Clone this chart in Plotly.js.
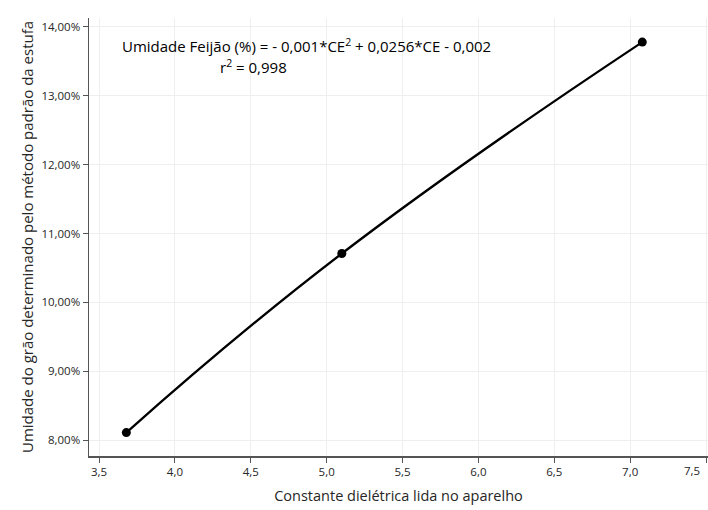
<!DOCTYPE html>
<html>
<head>
<meta charset="utf-8">
<script src="https://cdn.plot.ly/plotly-3.0.1.min.js"></script>
<style>html,body{margin:0;padding:0;background:#fff;}#chart{width:708px;height:510px;}</style>
</head>
<body>
<div id="chart"></div>
<script>
// Data
const constanteDieletrica = [3.68, 5.10, 7.08];
const umidadeGrao = [0.0811, 0.1071, 0.1378];
const xTickVals = [3.5, 4.0, 4.5, 5.0, 5.5, 6.0, 6.5, 7.0, 7.5];
const xTickText = ['3,5', '4,0', '4,5', '5,0', '5,5', '6,0', '6,5', '7,0', ' '];
const yTickVals = [0.08, 0.09, 0.10, 0.11, 0.12, 0.13, 0.14];
const equationText = 'Umidade Feijão (%) = - 0,001*CE<sup>2</sup> + 0,0256*CE - 0,002';
const r2Text = 'r<sup>2</sup> = 0,998';

const FONT = 'Open Sans, Noto Sans, sans-serif';

const trace = {
  x: constanteDieletrica,
  y: umidadeGrao,
  mode: 'lines+markers',
  type: 'scatter',
  line: {shape: 'spline', smoothing: 1.3, color: '#000', width: 2.3},
  marker: {color: '#000', size: 9},
  hoverinfo: 'none'
};

const layout = {
  width: 708, height: 510,
  margin: {l: 89, r: 0, t: 18, b: 54},
  paper_bgcolor: '#fff', plot_bgcolor: '#fff',
  separators: ',.',
  font: {family: FONT, color: '#262626', size: 12},
  showlegend: false,
  xaxis: {
    range: [3.434, 7.513],
    tickvals: xTickVals, ticktext: xTickText,
    showgrid: true, gridcolor: '#efefef', gridwidth: 1,
    zeroline: false,
    showline: true, linecolor: '#555', linewidth: 1.5,
    ticks: 'outside', ticklen: 5, tickcolor: '#555', tickwidth: 1,
    tickfont: {family: FONT, size: 11.5, color: '#262626'},
    title: {text: 'Constante dielétrica lida no aparelho', font: {family: FONT, size: 14.5, color: '#262626'}, standoff: 12}
  },
  yaxis: {
    range: [0.0777, 0.1413],
    tickvals: yTickVals, tickformat: '.2%',
    showgrid: true, gridcolor: '#efefef', gridwidth: 1,
    zeroline: false,
    showline: true, linecolor: '#555', linewidth: 1.5,
    ticks: 'outside', ticklen: 5, tickcolor: '#555', tickwidth: 1,
    tickfont: {family: FONT, size: 11.5, color: '#262626'},
    title: {text: 'Umidade do grão determinado pelo método padrão da estufa', font: {family: FONT, size: 15, color: '#262626'}, standoff: 4}
  },
  annotations: [
    {xref: 'paper', yref: 'paper', x: (306 - 89) / 619, y: (456 - 45) / 438, text: equationText, showarrow: false, xanchor: 'center', yanchor: 'middle', font: {family: FONT, size: 15, color: '#000'}},
    {xref: 'paper', yref: 'paper', x: (253 - 89) / 619, y: (456 - 67) / 438, text: r2Text, showarrow: false, xanchor: 'center', yanchor: 'middle', font: {family: FONT, size: 15, color: '#000'}},
    {xref: 'paper', yref: 'paper', x: (692 - 89) / 619, y: (456 - 470) / 438, text: '7,5', showarrow: false, xanchor: 'center', yanchor: 'middle', font: {family: FONT, size: 11.5, color: '#262626'}}
  ]
};

Plotly.newPlot('chart', [trace], layout, {displayModeBar: false, staticPlot: true});
</script>
</body>
</html>
